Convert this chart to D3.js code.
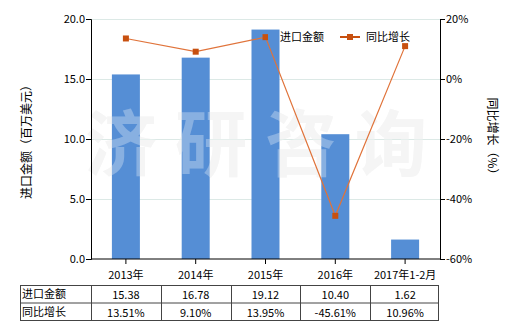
<!DOCTYPE html>
<html>
<head>
<meta charset="utf-8">
<script src="https://cdn.jsdelivr.net/npm/d3@7"></script>
<style>
  body { margin: 0; background: #fff; }
  svg text { font-family: "Noto Sans CJK SC", "DejaVu Sans", sans-serif; font-size: 11px; fill: #000; }
</style>
</head>
<body>
<div class="chart"></div>
<script>
const categories = ['2013年', '2014年', '2015年', '2016年', '2017年1-2月'];
const importValues = [15.38, 16.78, 19.12, 10.40, 1.62];
const growthValues = [13.51, 9.10, 13.95, -45.61, 10.96];
const leftTicks = [0, 5, 10, 15, 20];
const rightTicks = [-60, -40, -20, 0, 20];

const svg = d3.select('.chart')
  .append('svg')
  .attr('width', 520)
  .attr('height', 330);

const plotL = 91, plotR = 440, plotT = 19, plotB = 259;

const x = d3.scaleBand()
  .domain(categories)
  .range([plotL, plotR]);

const yL = d3.scaleLinear().domain([0, 20]).range([plotB, plotT]);
const yR = d3.scaleLinear().domain([-60, 20]).range([plotB, plotT]);

// watermark
svg.append('text')
  .attr('x', 265).attr('y', 170)
  .attr('text-anchor', 'middle')
  .style('font-size', '72px')
  .style('font-weight', 'bold')
  .style('fill', '#f1f1f1')
  .style('letter-spacing', '18px')
  .text('济研咨询');

// grid
svg.append('g')
  .selectAll('line')
  .data(leftTicks.filter(d => d > 0))
  .enter()
  .append('line')
  .attr('x1', plotL).attr('x2', plotR)
  .attr('y1', d => yL(d) + 0.5).attr('y2', d => yL(d) + 0.5)
  .attr('stroke', '#dce9e6')
  .attr('stroke-width', 1);

// bars
svg.append('g')
  .selectAll('rect')
  .data(importValues)
  .enter()
  .append('rect')
  .attr('x', (d, i) => x(categories[i]) + x.bandwidth() / 2 - 14)
  .attr('width', 28)
  .attr('y', d => yL(d))
  .attr('height', d => plotB - yL(d))
  .attr('fill', '#558ed5');

// watermark, faint over the bars
svg.append('text')
  .attr('x', 265).attr('y', 170)
  .attr('text-anchor', 'middle')
  .style('font-size', '72px')
  .style('font-weight', 'bold')
  .style('fill', '#ffffff')
  .style('fill-opacity', 0.3)
  .style('letter-spacing', '18px')
  .text('济研咨询');

// axes
const axisL = svg.append('g')
  .attr('transform', `translate(${plotL},0)`)
  .call(d3.axisLeft(yL).tickValues(leftTicks).tickFormat(d3.format('.1f')).tickSize(5));
const axisR = svg.append('g')
  .attr('transform', `translate(${plotR},0)`)
  .call(d3.axisRight(yR).tickValues(rightTicks).tickFormat(d => d + '%').tickSize(5));
const axisB = svg.append('g')
  .attr('transform', `translate(0,${plotB})`)
  .call(d3.axisBottom(x).tickSize(5));

[axisL, axisR, axisB].forEach(g => {
  g.select('.domain').attr('stroke', '#000');
  g.selectAll('.tick line').attr('stroke', '#000');
  g.selectAll('text').style('font-size', '11px').attr('fill', '#000');
});
axisL.selectAll('text').attr('x', -6);
axisR.selectAll('text').attr('x', 6);
axisB.selectAll('text').attr('dy', '1.1em');
axisB.select('.domain').attr('d', `M${plotL},0H${plotR}`);

// axis titles
svg.append('text')
  .attr('transform', 'translate(31,139) rotate(-90)')
  .attr('text-anchor', 'middle')
  .style('font-size', '12px')
  .text('进口金额（百万美元）');
svg.append('text')
  .attr('transform', 'translate(488,139) rotate(90)')
  .attr('text-anchor', 'middle')
  .style('font-size', '12px')
  .text('同比增长（%）');

// line
const line = d3.line()
  .x((d, i) => x(categories[i]) + x.bandwidth() / 2)
  .y(d => yR(d));

svg.append('path')
  .datum(growthValues)
  .attr('d', line)
  .attr('fill', 'none')
  .attr('stroke', '#e0733a')
  .attr('stroke-width', 1.2);

svg.append('g')
  .selectAll('rect')
  .data(growthValues)
  .enter()
  .append('rect')
  .attr('x', (d, i) => x(categories[i]) + x.bandwidth() / 2 - 3)
  .attr('y', d => yR(d) - 3)
  .attr('width', 6).attr('height', 6)
  .attr('fill', '#c8500f');

// legend
const legend = svg.append('g');
legend.append('rect')
  .attr('x', 268).attr('y', 31).attr('width', 10).attr('height', 10)
  .attr('fill', '#558ed5');
legend.append('text')
  .attr('x', 280).attr('y', 41)
  .style('font-size', '11px')
  .text('进口金额');
legend.append('line')
  .attr('x1', 340).attr('x2', 360).attr('y1', 37).attr('y2', 37)
  .attr('stroke', '#c8500f').attr('stroke-width', 2);
legend.append('rect')
  .attr('x', 347).attr('y', 34).attr('width', 6).attr('height', 6)
  .attr('fill', '#c8500f');
legend.append('text')
  .attr('x', 366).attr('y', 41)
  .style('font-size', '11px')
  .text('同比增长');

// table
const rowLabels = ['进口金额', '同比增长'];
const rows = [
  importValues.map(d => d.toFixed(2)),
  growthValues.map(d => d.toFixed(2) + '%')
];
const tTop = 285, rowH = 17.5, tLeft = 20;
const table = svg.append('g');

table.append('rect')
  .attr('x', tLeft + 0.5).attr('y', tTop + 0.5)
  .attr('width', plotR - tLeft - 2).attr('height', rowH * 2)
  .attr('fill', 'none').attr('stroke', '#444');
table.append('line')
  .attr('x1', tLeft).attr('x2', plotR - 1)
  .attr('y1', tTop + rowH + 0.5).attr('y2', tTop + rowH + 0.5)
  .attr('stroke', '#444');
table.selectAll('.col')
  .data(categories)
  .enter()
  .append('line')
  .attr('x1', d => Math.round(x(d)) + 0.5)
  .attr('x2', d => Math.round(x(d)) + 0.5)
  .attr('y1', tTop).attr('y2', tTop + rowH * 2)
  .attr('stroke', '#444');

rowLabels.forEach((lab, r) => {
  table.append('text')
    .attr('x', tLeft + 2)
    .attr('y', tTop + rowH * r + 13)
    .text(lab);
  table.selectAll('.v' + r)
    .data(rows[r])
    .enter()
    .append('text')
    .attr('x', (d, i) => x(categories[i]) + x.bandwidth() / 2)
    .attr('y', tTop + rowH * r + 14)
    .attr('text-anchor', 'middle')
    .text(d => d);
});
</script>
</body>
</html>
